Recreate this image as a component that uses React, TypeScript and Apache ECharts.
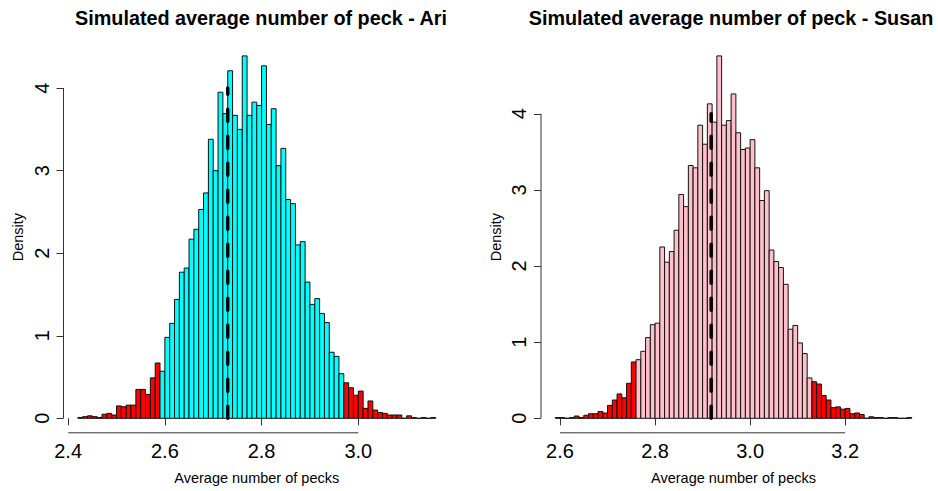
import React, { useEffect, useRef } from "react";
import * as echarts from "echarts";

// Histogram bins: width and left edge of the first bin for each bird
const binWidth = 0.01;
const ariBreakStart = 2.42;
const susanBreakStart = 2.59;

// Density of each bin (left to right)
const ariDensity = [
  0.01, 0.02, 0.03, 0.02, 0.01, 0.05, 0.06, 0.04, 0.15, 0.14, 0.16, 0.16, 0.35, 0.35, 0.29, 0.49, 0.67,
  0.57, 0.98, 1.15, 1.44, 1.77, 1.82, 2.17, 2.29, 2.53, 2.73, 3.38, 3.0, 3.95, 3.69, 4.21, 3.67, 3.5, 4.39,
  3.67, 3.83, 3.79, 4.27, 3.56, 3.75, 3.06, 3.27, 2.65, 2.6, 2.1, 2.14, 1.65, 1.38, 1.45, 1.27, 1.16, 0.8,
  0.75, 0.54,
  0.43, 0.37, 0.28, 0.33, 0.12, 0.21, 0.1, 0.07, 0.06, 0.04, 0.04, 0.04, 0.0, 0.03, 0.01, 0.0, 0.01, 0.0, 0.01,
];
const susanDensity = [
  0.01, 0.01, 0.0, 0.01, 0.03, 0.01, 0.04, 0.06, 0.06, 0.09, 0.07, 0.17, 0.24, 0.32, 0.27, 0.46, 0.74,
  0.77, 0.88, 1.06, 1.23, 1.25, 2.25, 2.05, 2.19, 2.47, 2.94, 2.78, 3.32, 3.29, 3.85, 3.6, 4.13, 3.89, 4.76,
  3.85, 3.91, 4.26, 3.75, 3.53, 3.55, 3.66, 3.29, 2.86, 2.99, 2.21, 2.06, 1.98, 1.76, 1.17, 1.22, 0.99, 0.85,
  0.53,
  0.48, 0.45, 0.3, 0.24, 0.14, 0.15, 0.12, 0.13, 0.06, 0.07, 0.05, 0.0, 0.02, 0.01, 0.01, 0.0, 0.01, 0.01, 0.0,
  0.0, 0.01,
];

// Bounds of the central region; bins outside are drawn in red
const ariCutoffs = [2.59, 2.97];
const susanCutoffs = [2.76, 3.13];

// Observed averages (dashed reference lines) and the line height
const ariObserved = 2.73;
const susanObserved = 2.918;
const observedLineTop = 4;

// Tick labels
const ariXTicks = [2.4, 2.6, 2.8, 3.0];
const susanXTicks = [2.6, 2.8, 3.0, 3.2];
const ariYTicks = [0, 1, 2, 3, 4];
const susanYTicks = [0, 1, 2, 3, 4];

const titles = ["Simulated average number of peck - Ari", "Simulated average number of peck - Susan"];
const xTitle = "Average number of pecks";
const yTitle = "Density";

const FONT = '"Liberation Sans", Arial, Helvetica, sans-serif';
const TAIL_COLOR = "#FF0000";

type Panel = {
  start: number;
  density: number[];
  cutoffs: number[];
  observed: number;
  xTicks: number[];
  yTicks: number[];
  body: string;
  title: string;
  titleCenter: number;
  left: number;
  width: number;
};

const panels: Panel[] = [
  { start: ariBreakStart, density: ariDensity, cutoffs: ariCutoffs, observed: ariObserved, xTicks: ariXTicks, yTicks: ariYTicks, body: "#00FFFF", title: titles[0], titleCenter: 256, left: 63.5, width: 386.5 },
  { start: susanBreakStart, density: susanDensity, cutoffs: susanCutoffs, observed: susanObserved, xTicks: susanXTicks, yTicks: susanYTicks, body: "#FFC0CB", title: titles[1], titleCenter: 726, left: 541, width: 385 },
];

const GRID_TOP = 41.4;
const GRID_HEIGHT = 391.4;

function buildOption() {
  const grid: any[] = [];
  const xAxis: any[] = [];
  const yAxis: any[] = [];
  const series: any[] = [];
  const title: any[] = [];

  panels.forEach((p, i) => {
    const lo = p.start;
    const hi = p.start + p.density.length * binWidth;
    const xExt = (hi - lo) * 0.04;
    const xMin = lo - xExt;
    const xMax = hi + xExt;
    const yTop = Math.max(...p.density);
    const yMin = -yTop * 0.04;
    const yMax = yTop * 1.04;

    grid.push({ left: p.left, top: GRID_TOP, width: p.width, height: GRID_HEIGHT, containLabel: false });

    title.push({
      text: p.title,
      left: p.titleCenter,
      top: 3,
      textAlign: "center",
      textStyle: { fontFamily: FONT, fontSize: 19.8, fontWeight: "bold", color: "#000" },
    });

    xAxis.push({
      type: "value",
      gridIndex: i,
      min: xMin,
      max: xMax,
      name: xTitle,
      nameLocation: "middle",
      nameGap: 38,
      nameTextStyle: { fontFamily: FONT, fontSize: 14.5, color: "#000" },
      axisLine: { show: false },
      splitLine: { show: false },
      axisTick: { show: true, customValues: p.xTicks, length: 7, lineStyle: { color: "#333", width: 1 } },
      axisLabel: {
        customValues: p.xTicks,
        formatter: (v: number) => v.toFixed(1),
        fontFamily: FONT,
        fontSize: 20,
        color: "#000",
        margin: 8,
      },
    });

    yAxis.push({
      type: "value",
      gridIndex: i,
      min: yMin,
      max: yMax,
      name: yTitle,
      nameLocation: "middle",
      nameGap: 38,
      nameTextStyle: { fontFamily: FONT, fontSize: 14.5, color: "#000" },
      axisLine: { show: false },
      splitLine: { show: false },
      axisTick: { show: true, customValues: p.yTicks, length: 7, lineStyle: { color: "#333", width: 1 } },
      axisLabel: {
        customValues: p.yTicks,
        formatter: (v: number) => String(Math.round(v)),
        rotate: 90,
        fontFamily: FONT,
        fontSize: 20,
        color: "#000",
        margin: 12,
      },
    });

    const bins = p.density.map((d, k) => {
      const x0 = p.start + k * binWidth;
      const x1 = x0 + binWidth;
      const mid = (x0 + x1) / 2;
      const tail = mid < p.cutoffs[0] || mid > p.cutoffs[1] ? 1 : 0;
      return [x0, x1, d, tail];
    });

    series.push({
      type: "custom",
      xAxisIndex: i,
      yAxisIndex: i,
      silent: true,
      encode: { x: [0, 1], y: 2 },
      data: bins,
      renderItem: (_params: any, api: any) => {
        const a = api.coord([api.value(0), api.value(2)]);
        const b = api.coord([api.value(1), 0]);
        return {
          type: "rect",
          shape: { x: a[0], y: a[1], width: b[0] - a[0], height: b[1] - a[1] },
          style: { fill: api.value(3) ? TAIL_COLOR : p.body, stroke: "#111", lineWidth: 1 },
        };
      },
    });

    // Observed average: thick dashed segment
    series.push({
      type: "line",
      xAxisIndex: i,
      yAxisIndex: i,
      silent: true,
      clip: false,
      symbol: "none",
      z: 5,
      data: [
        [p.observed, 0],
        [p.observed, observedLineTop],
      ],
      lineStyle: { color: "#000", width: 3.5, type: [12, 15], cap: "round" },
    });

    // Axis lines spanning only from the first to the last tick
    series.push({
      type: "line",
      xAxisIndex: i,
      yAxisIndex: i,
      silent: true,
      clip: false,
      symbol: "none",
      data: [
        [p.xTicks[0], yMin],
        [p.xTicks[p.xTicks.length - 1], yMin],
      ],
      lineStyle: { color: "#333", width: 1 },
    });
    series.push({
      type: "line",
      xAxisIndex: i,
      yAxisIndex: i,
      silent: true,
      clip: false,
      symbol: "none",
      data: [
        [xMin, p.yTicks[0]],
        [xMin, p.yTicks[p.yTicks.length - 1]],
      ],
      lineStyle: { color: "#333", width: 1 },
    });
  });

  return {
    animation: false,
    backgroundColor: "#fff",
    title,
    grid,
    xAxis,
    yAxis,
    series,
  };
}

export default function App() {
  const ref = useRef<HTMLDivElement>(null);
  useEffect(() => {
    if (!ref.current) return;
    const chart = echarts.init(ref.current, undefined, { renderer: "svg" });
    chart.setOption(buildOption() as any);
    return () => chart.dispose();
  }, []);
  return (
    <div
      ref={ref}
      style={{ position: "fixed", left: 0, top: 0, width: 938, height: 491, background: "#fff" }}
    />
  );
}
